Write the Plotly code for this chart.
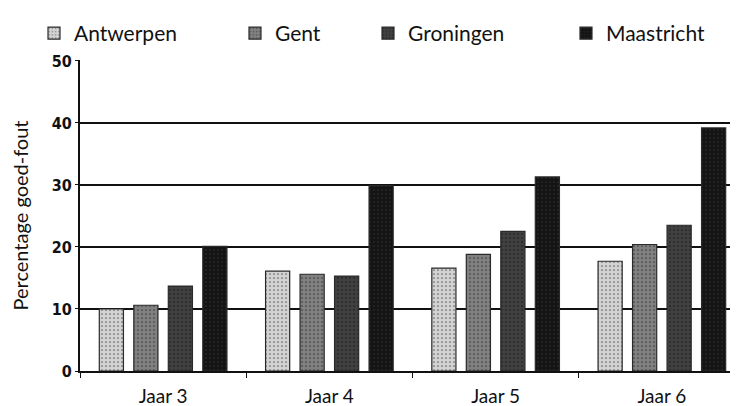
import plotly.graph_objects as go

categories = ["Jaar 3", "Jaar 4", "Jaar 5", "Jaar 6"]
antwerpen = [10.0, 16.1, 16.6, 17.7]
gent = [10.6, 15.6, 18.8, 20.4]
groningen = [13.7, 15.3, 22.5, 23.5]
maastricht = [20.1, 29.9, 31.3, 39.2]
series_names = ["Antwerpen", "Gent", "Groningen", "Maastricht"]
y_ticks = [0, 10, 20, 30, 40, 50]

colors = ["#d2d2d2", "#808080", "#404040", "#141414"]
legend_px = [26, 227, 360, 558]
legend_keys = ["legend", "legend2", "legend3", "legend4"]
W, H = 738, 406

fig = go.Figure()
for name, vals, col, lk in zip(series_names, [antwerpen, gent, groningen, maastricht], colors, legend_keys):
    fig.add_trace(go.Bar(
        x=categories, y=vals, name=name, legend=lk,
        marker=dict(color=col, line=dict(color="#2a2a2a", width=1.2),
                    pattern=dict(shape=".", fgcolor="#000000" if col != "#141414" else "#4a4a4a",
                                 bgcolor=col, size=4, solidity=0.15)),
    ))

layout_legends = {}
for lk, px in zip(legend_keys, legend_px):
    layout_legends[lk] = dict(
        x=px / W, xref="container", y=1 - 5 / H, yref="container", yanchor="top", xanchor="left",
        orientation="h", bgcolor="rgba(0,0,0,0)", borderwidth=0,
        font=dict(family="Lato, Open Sans, sans-serif", size=21, color="#111111"),
        itemwidth=30, tracegroupgap=0,
    )

fig.update_layout(
    width=W, height=H,
    margin=dict(l=72, r=1, t=52, b=43, autoexpand=False),
    paper_bgcolor="white", plot_bgcolor="white",
    barmode="group", bargap=0.17, bargroupgap=0.3,
    showlegend=True,
    **layout_legends,
    xaxis=dict(
        type="category", showline=True, linecolor="#111111", linewidth=2,
        ticks="outside", tickson="boundaries", ticklen=5, tickcolor="#111111",
        ticklabelstandoff=7,
        tickfont=dict(family="Lato, Open Sans, sans-serif", size=19, color="#111111"),
        showgrid=False, mirror=False, automargin=False,
    ),
    yaxis=dict(
        range=[0, 50.15], tickvals=y_ticks, showline=True, linecolor="#111111", linewidth=2,
        ticks="outside", ticklen=3, tickcolor="#111111",
        tickfont=dict(family="Liberation Sans Narrow, DejaVu Sans Condensed, Liberation Sans, sans-serif",
                      size=16, color="#111111", weight="bold"),
        showgrid=True, gridcolor="#111111", gridwidth=2, zeroline=False, automargin=False,
        title=dict(text="Percentage goed-fout", standoff=20,
                   font=dict(family="Lato, Open Sans, sans-serif", size=20, color="#111111")),
    ),
)

fig.write_html("out.html")
